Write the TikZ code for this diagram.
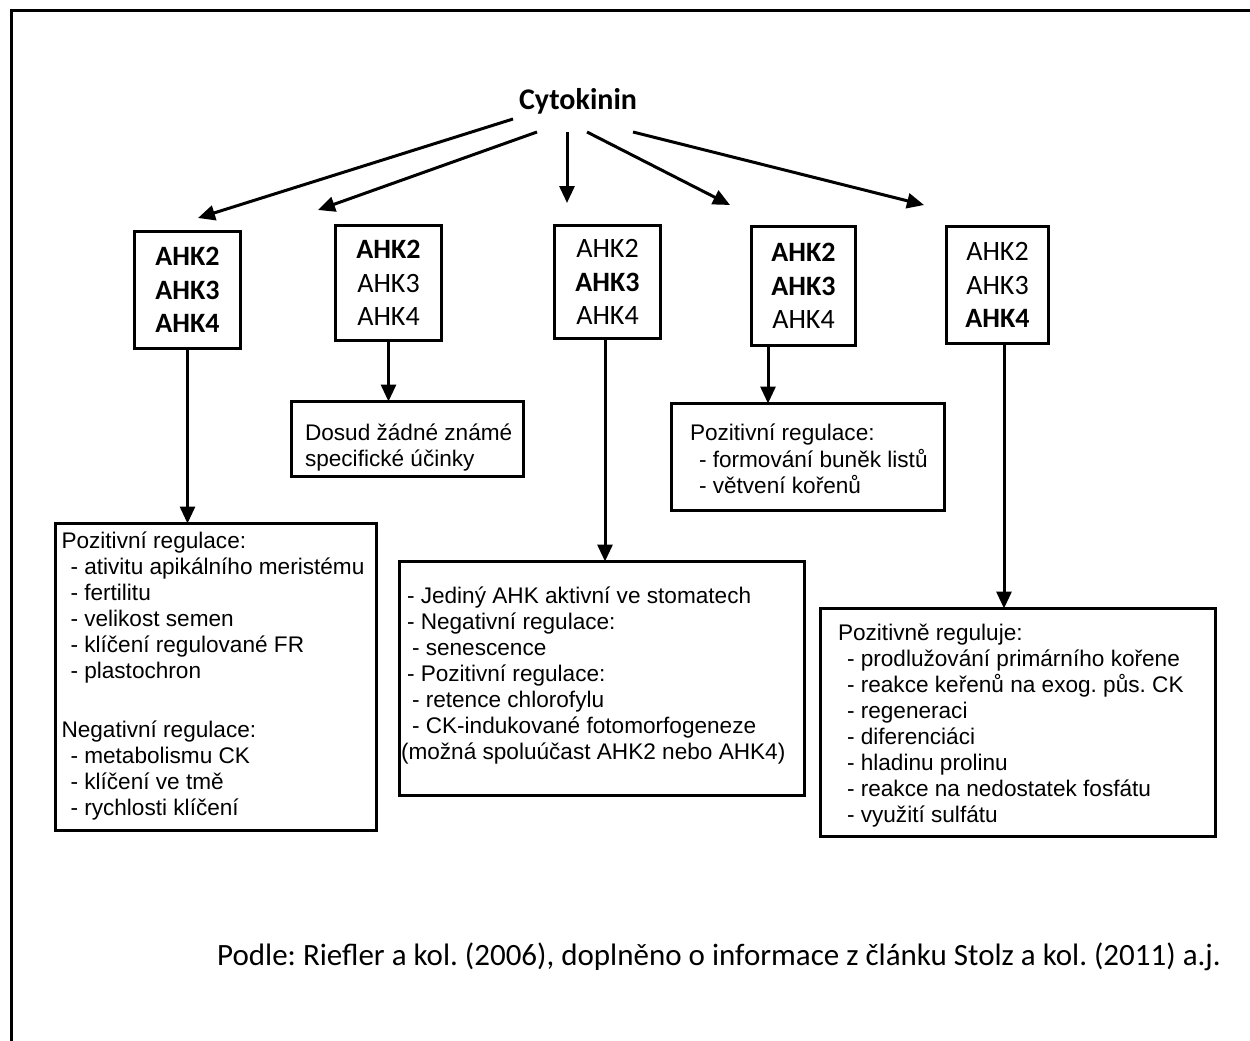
\documentclass[tikz,border=0pt]{standalone}
\usepackage{fontspec}
\usetikzlibrary{arrows.meta}
\newfontfamily\calibrifont{Carlito}
\newfontfamily\arialfont{Liberation Sans}
\frenchspacing
\tikzset{
  ahk/.style={draw, line width=3pt, inner sep=0pt, outer sep=0pt, align=center,
    font={\calibrifont\fontsize{28}{33.5}\selectfont}},
  tb/.style={draw, line width=3pt, inner sep=0pt, outer sep=0pt, anchor=north west, font=\arialfont},
  arr/.style={line width=3pt, -{Triangle[length=17pt,width=15pt]}},
  frame/.style={line width=3pt},
}
\newcommand\txtbox[8]{%
  \node[tb] (#1) at (#2,#3) {\parbox[c][\dimexpr#5pt-#3pt\relax][t]{\dimexpr#4pt-#2pt\relax}{%
    \fontsize{22.6}{26}\selectfont\frenchspacing\leftskip=#6pt\rightskip=0pt plus 1fil\parfillskip=0pt plus 1fil
    \vspace*{#7pt}\strut #8}};}
\newcommand\ind{\hspace*{9pt}}
\begin{document}
\begin{tikzpicture}[x=1pt,y=-1pt]
\useasboundingbox (0,0) rectangle (1250,1041);
\draw[frame] (11,1045) -- (11,11) -- (1252,11);

\node[anchor=base, font={\calibrifont\bfseries\fontsize{30}{36}\selectfont}] (cyt) at (578,110) {Cytokinin};

\node[ahk, minimum width=106pt, minimum height=117pt] (b1) at (187.5,290) {\textbf{AHK2}\\\textbf{AHK3}\\\textbf{AHK4}};
\node[ahk, minimum width=106pt, minimum height=115pt] (b2) at (388.5,283) {\textbf{AHK2}\\AHK3\\AHK4};
\node[ahk, minimum width=106pt, minimum height=113pt] (b3) at (607.5,282) {AHK2\\\textbf{AHK3}\\AHK4};
\node[ahk, minimum width=104pt, minimum height=119pt] (b4) at (803.5,286) {\textbf{AHK2}\\\textbf{AHK3}\\AHK4};
\node[ahk, minimum width=102pt, minimum height=117pt] (b5) at (997.5,285) {AHK2\\AHK3\\\textbf{AHK4}};

\txtbox{t6}{55.5}{523.5}{376.5}{830.5}{6}{6.5}{Pozitivní regulace:\\
\ind- ativitu apikálního meristému\\
\ind- fertilitu\\
\ind- velikost semen\\
\ind- klíčení regulované FR\\
\ind- plastochron\\[33pt]
Negativní regulace:\\
\ind- metabolismu CK\\
\ind- klíčení ve tmě\\
\ind- rychlosti klíčení}

\txtbox{t7}{291.5}{401.5}{523.5}{476.5}{13.5}{20.5}{Dosud žádné známé\\
specifické účinky}

\txtbox{t8}{399.5}{561.5}{804.5}{795.5}{1.5}{23.5}{\hspace*{6pt}- Jediný AHK aktivní ve stomatech\\
\hspace*{6pt}- Negativní regulace:\\
\hspace*{11pt}- senescence\\
\hspace*{6pt}- Pozitivní regulace:\\
\hspace*{11pt}- retence chlorofylu\\
\hspace*{11pt}- CK-indukované fotomorfogeneze\\
(možná spoluúčast AHK2 nebo AHK4)}

\txtbox{t9}{671.5}{403.5}{944.5}{510.5}{18.5}{18.5}{Pozitivní regulace:\\
\ind- formování buněk listů\\
\ind- větvení kořenů}

\txtbox{t10}{820.5}{608.5}{1215.5}{836.5}{17.5}{13.5}{Pozitivně reguluje:\\
\ind- prodlužování primárního kořene\\
\ind- reakce keřenů na exog. půs. CK\\
\ind- regeneraci\\
\ind- diferenciáci\\
\ind- hladinu prolinu\\
\ind- reakce na nedostatek fosfátu\\
\ind- využití sulfátu}

\node[anchor=base, font={\calibrifont\fontsize{31}{37}\selectfont}] (src) at (719,965)
  {Podle: Riefler a kol. (2006), doplněno o informace z článku Stolz a kol. (2011) a.j.};

\draw[arr] ([shift={(-65,9)}]cyt.base) -- ([shift={(10.5,-13.5)}]b1.north);
\draw[arr] ([shift={(-41,22)}]cyt.base) -- ([shift={(-70.5,-15.5)}]b2.north);
\draw[arr] ([shift={(-11,22)}]cyt.base) -- ([shift={(-40.5,-22.5)}]b3.north);
\draw[arr] ([shift={(9,22)}]cyt.base) -- ([shift={(-73.5,-21.5)}]b4.north);
\draw[arr] ([shift={(55,22)}]cyt.base) -- ([shift={(-73.5,-21.5)}]b5.north);

\draw[arr] (b1.south) -- (b1.south |- t6.north);
\draw[arr] (b2.south) -- (b2.south |- t7.north);
\draw[arr] ([xshift=-2.5pt]b3.south) -- ([xshift=-2.5pt]b3.south |- t8.north);
\draw[arr] ([xshift=-35.5pt]b4.south) -- ([xshift=-35.5pt]b4.south |- t9.north);
\draw[arr] ([xshift=6.5pt]b5.south) -- ([xshift=6.5pt]b5.south |- t10.north);
\end{tikzpicture}
\end{document}
